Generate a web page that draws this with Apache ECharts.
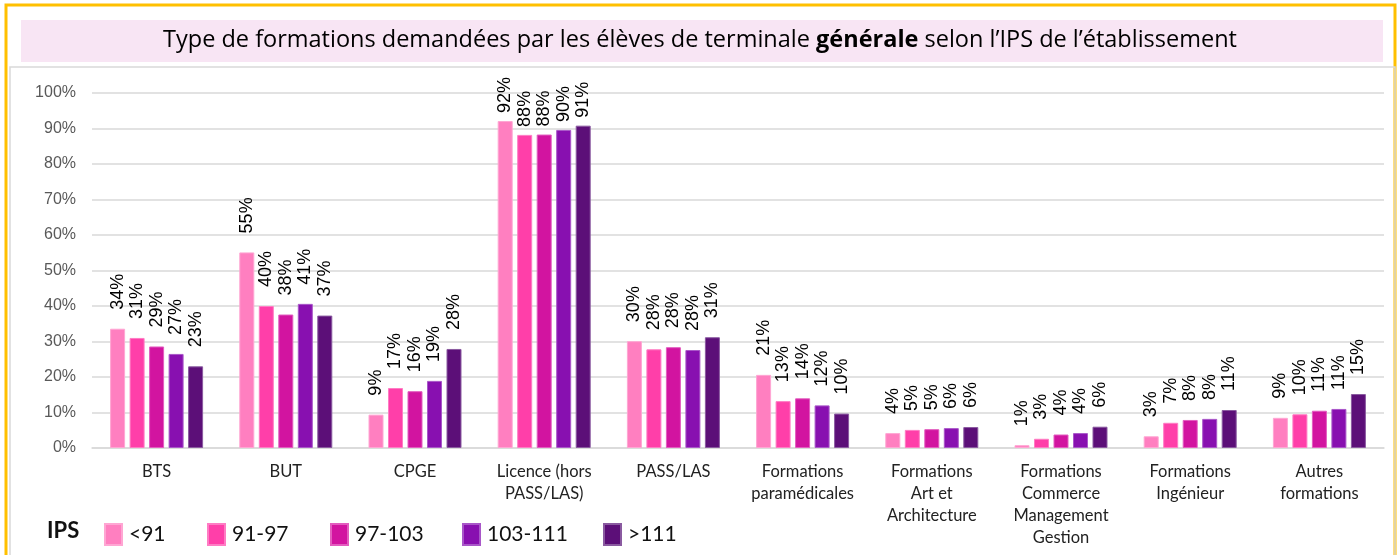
<!DOCTYPE html>
<html>
<head>
<meta charset="utf-8">
<script src="https://cdn.jsdelivr.net/npm/echarts@6/dist/echarts.min.js"></script>
<style>
  html, body { margin: 0; padding: 0; background: #fff; }
  #paint { width: 1400px; height: 555px; }
</style>
</head>
<body>
<div id="paint"></div>
<script>
// categories
var categories = ['BTS', 'BUT', 'CPGE', 'Licence (hors\nPASS/LAS)', 'PASS/LAS',
    'Formations\nparamédicales', 'Formations\nArt et\nArchitecture',
    'Formations\nCommerce\nManagement\nGestion', 'Formations\nIngénieur', 'Autres\nformations'];
var groups = ['<91', '91-97', '97-103', '103-111', '>111'];
var yTicks = [0, 10, 20, 30, 40, 50, 60, 70, 80, 90, 100];

// % of students, per IPS group
var ips_lt91   = [33.6, 55.1, 9.4, 92.1, 30.1, 20.6, 4.2, 0.8, 3.3, 8.5];
var ips_91_97  = [31.0, 40.0, 16.9, 88.2, 27.8, 13.2, 5.1, 2.6, 7.1, 9.5];
var ips_97_103 = [28.6, 37.6, 16.0, 88.3, 28.4, 14.0, 5.3, 3.8, 7.9, 10.5];
var ips_103_111= [26.5, 40.6, 18.9, 89.6, 27.6, 12.0, 5.6, 4.2, 8.2, 11.0];
var ips_gt111  = [23.0, 37.3, 27.9, 90.8, 31.2, 9.7, 5.9, 6.0, 10.7, 15.2];

var colors = ['#FF7FC0', '#FF3FA9', '#D214A0', '#8810B0', '#5C0F78'];
var borders = ['#FFA6D3', '#FF7CC4', '#E35CBF', '#A957C9', '#8A5AA0'];

function paint(){
    var chart = echarts.init(document.getElementById('paint'));
    var all = [ips_lt91, ips_91_97, ips_97_103, ips_103_111, ips_gt111];
    var legendX = [104, 207, 330, 462, 603];

    var series = [];
    for (let i in all) {
        series.push({
            name: groups[i],
            type: 'bar',
            barWidth: 15,
            barGap: '30%',
            itemStyle: { color: colors[i], borderColor: borders[i], borderWidth: 1 },
            label: {
                show: true,
                position: 'top',
                rotate: 90,
                align: 'left',
                verticalAlign: 'middle',
                distance: 19,
                color: '#000',
                fontFamily: 'Liberation Sans',
                fontSize: 18,
                formatter: function (p) { return Math.round(p.value) + '%'; }
            },
            data: all[i].map(function (v, k) {
                // Licence labels sit closer to the bars
                return k === 3 ? { value: v, label: { distance: 8 } } : v;
            })
        });
    }

    // one legend per item so each sits where the original puts it
    var legends = groups.map(function (g, i) {
        return {
            data: [g],
            left: legendX[i],
            top: 523,
            padding: 0,
            itemWidth: 17,
            itemHeight: 21,
            itemGap: 0,
            icon: 'rect',
            textStyle: { fontFamily: 'Lato', fontSize: 21, color: '#111', padding: [0, 0, 0, 2] }
        };
    });

    var option = {
        animation: false,
        color: colors,
        graphic: [
            { type: 'rect', shape: { x: 6, y: 5, width: 1389, height: 560 },
              style: { fill: 'none', stroke: '#FFC000', lineWidth: 3 }, silent: true },
            { type: 'rect', shape: { x: 10, y: 67, width: 1385, height: 500 },
              style: { fill: 'none', stroke: '#D9D9D9', lineWidth: 1.5 }, silent: true },
            { type: 'rect', shape: { x: 21, y: 20, width: 1362, height: 42 },
              style: { fill: '#F8E5F4' }, silent: true },
            { type: 'text', left: 'center', top: 28,
              style: {
                  text: '{n|Type de formations demandées par les élèves de terminale }{b|générale}{n| selon l’IPS de l’établissement}',
                  rich: {
                      n: { fontFamily: 'Open Sans', fontSize: 23.5, fill: '#000' },
                      b: { fontFamily: 'Open Sans', fontSize: 23.5, fontWeight: 'bold', fill: '#000' }
                  }
              } },
            { type: 'text', left: 47, top: 520,
              style: { text: 'IPS', fontFamily: 'Lato', fontSize: 22, fontWeight: 'bold', fill: '#111' } }
        ],
        legend: legends,
        grid: { left: 92, right: 16, top: 93, bottom: 107, containLabel: false },
        xAxis: {
            type: 'category',
            data: categories,
            axisTick: { show: false },
            axisLine: { lineStyle: { color: '#D9D9D9', width: 1.5 } },
            axisLabel: {
                interval: 0,
                margin: 13,
                fontFamily: 'Lato',
                fontSize: 16.5,
                lineHeight: 22,
                color: '#222',
                align: 'center',
                verticalAlign: 'top'
            }
        },
        yAxis: {
            type: 'value',
            min: yTicks[0],
            max: yTicks[yTicks.length - 1],
            interval: 10,
            axisLine: { show: false },
            axisTick: { show: false },
            splitLine: { lineStyle: { color: '#D9D9D9', width: 1.5 } },
            axisLabel: {
                margin: 16,
                fontFamily: 'Liberation Sans',
                fontSize: 16,
                color: '#595959',
                formatter: '{value}%'
            }
        },
        series: series
    };

    chart.setOption(option);
}
paint();
</script>
</body>
</html>
